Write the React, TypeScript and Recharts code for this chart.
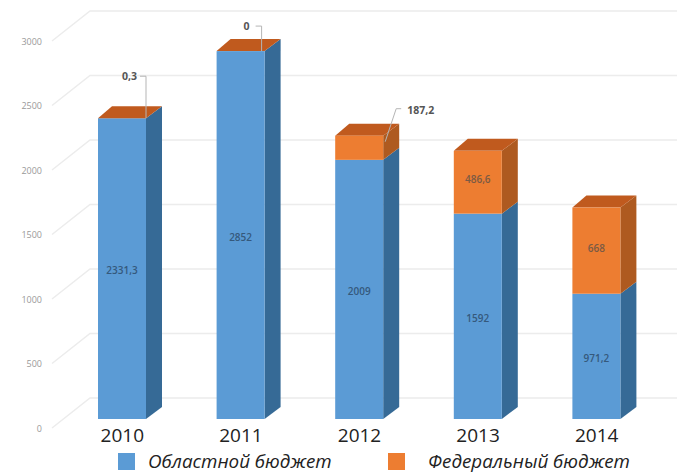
import { BarChart, Bar, XAxis, YAxis, CartesianGrid, Legend, LabelList } from "recharts";

const years = ["2010", "2011", "2012", "2013", "2014"];
const regional = [2331.3, 2852, 2009, 1592, 971.2];
const federal = [0.3, 0, 187.2, 486.6, 668];
const yTicks = [0, 500, 1000, 1500, 2000, 2500, 3000];
const regionalName = "Областной бюджет";
const federalName = "Федеральный бюджет";

const data = years.map((year, i) => ({ year, regional: regional[i], federal: federal[i] }));

// 3d look: how far the side and top faces go back from the front
const DX = 16;
const DY = 12;
const fmt = (v: number) => String(v).replace(".", ",");

function Block({ x, y, width, height, front, side, top }: any) {
  const r = x + width;
  const b = y + height;
  return (
    <g>
      <polygon points={`${r},${b} ${r + DX},${b - DY} ${r + DX},${y - DY} ${r},${y}`} fill={side} />
      {top && <polygon points={`${x},${y} ${x + DX - 2},${y - DY} ${r + DX},${y - DY} ${r},${y}`} fill={top} />}
      <rect x={x} y={y} width={width} height={height} fill={front} />
    </g>
  );
}

// back wall lines plus the diagonal going to the axis labels
function WallLine({ y1, x2 }: any) {
  return (
    <g stroke="#ececec" strokeWidth={1.5} fill="none">
      <polyline points={`52,${y1 + 9} 90,${y1 - 21} ${x2 + 21},${y1 - 21}`} />
    </g>
  );
}

function ValueTick({ x, y, payload }: any) {
  return (
    <text x={x - 13} y={y + 12.5} textAnchor="end" fontSize={9} fill="#999" fontFamily="Open Sans">
      {payload.value}
    </text>
  );
}

function YearTick({ x, y, payload }: any) {
  return (
    <text x={x} y={y + 15} textAnchor="middle" fontSize={19} fill="#222" fontFamily="Open Sans">
      {payload.value}
    </text>
  );
}

function RegionalLabel({ x, y, width, height, value }: any) {
  return (
    <text x={x + width / 2} y={y + height / 2 + 5.5} textAnchor="middle" fontSize={10} fontWeight={600} fill="#35597c" fontFamily="Open Sans">
      {fmt(value)}
    </text>
  );
}

function FederalLabel({ x, y, width, height, value, index }: any) {
  const cx = x + width / 2;
  if (index === 0 || index === 1) {
    const r = x + width + (index === 0 ? 0 : -3);
    const up = index === 0 ? 42 : 25;
    return (
      <g>
        <polyline points={`${r - 6},${y - up} ${r},${y - up} ${r},${y}`} stroke="#b5b5b5" strokeWidth={1} fill="none" />
        <text x={r - 9 - index * 3} y={y - up + 4} textAnchor="end" fontSize={10.5} fontWeight={700} fill="#555" fontFamily="Open Sans">
          {fmt(value)}
        </text>
      </g>
    );
  }
  if (index === 2) {
    const r = x + width;
    return (
      <g>
        <polyline points={`${r + 2},${y + 6} ${r + 13},${y - 27} ${r + 18},${y - 27}`} stroke="#b5b5b5" strokeWidth={1} fill="none" />
        <text x={r + 24} y={y - 22} fontSize={10.5} fontWeight={700} fill="#555" fontFamily="Open Sans">
          {fmt(value)}
        </text>
      </g>
    );
  }
  return (
    <text x={cx} y={y + height / 2 + 1} textAnchor="middle" fontSize={10} fontWeight={600} fill="#7a5a44" fontFamily="Open Sans">
      {fmt(value)}
    </text>
  );
}

function LegendRow() {
  const item = (name: string, color: string, left: number, textLeft: number) => (
    <>
      <span style={{ position: "absolute", left, top: 453, width: 17, height: 17, background: color }} />
      <span
        style={{
          position: "absolute",
          left: textLeft,
          top: 449,
          fontSize: 18.8,
          lineHeight: "24px",
          fontStyle: "italic",
          color: "#222",
          whiteSpace: "nowrap",
          fontFamily: "Open Sans",
        }}
      >
        {name}
      </span>
    </>
  );
  return (
    <div>
      {item(regionalName, "#5b9bd5", 118, 148)}
      {item(federalName, "#ed7d31", 388, 428)}
    </div>
  );
}

export default function App() {
  return (
    <div style={{ position: "absolute", left: 0, top: 0, background: "#fff" }}>
      <BarChart
        width={677}
        height={474}
        data={data}
        margin={{ top: 32, right: 21, bottom: 0, left: 0 }}
        barSize={48}
      >
        <CartesianGrid vertical={false} horizontal={(p: any) => <WallLine key={p.key} {...p} />} />
        <XAxis dataKey="year" axisLine={false} tickLine={false} tick={<YearTick />} height={55} interval={0} />
        <YAxis
          width={63}
          domain={[0, 3000]}
          ticks={yTicks}
          axisLine={false}
          tickLine={false}
          tick={<ValueTick />}
        />
        <Legend content={<LegendRow />} wrapperStyle={{ position: "absolute", left: 0, top: 0, width: 0, height: 0 }} />
        <Bar
          dataKey="regional"
          name={regionalName}
          stackId="a"
          isAnimationActive={false}
          shape={(p: any) => <Block {...p} front="#5b9bd5" side="#366a96" />}
        >
          <LabelList dataKey="regional" content={<RegionalLabel />} />
        </Bar>
        <Bar
          dataKey="federal"
          name={federalName}
          stackId="a"
          isAnimationActive={false}
          shape={(p: any) => <Block {...p} front="#ed7d31" side="#ae5a20" top="#c05a1e" />}
        >
          <LabelList dataKey="federal" content={<FederalLabel />} />
        </Bar>
      </BarChart>
    </div>
  );
}
